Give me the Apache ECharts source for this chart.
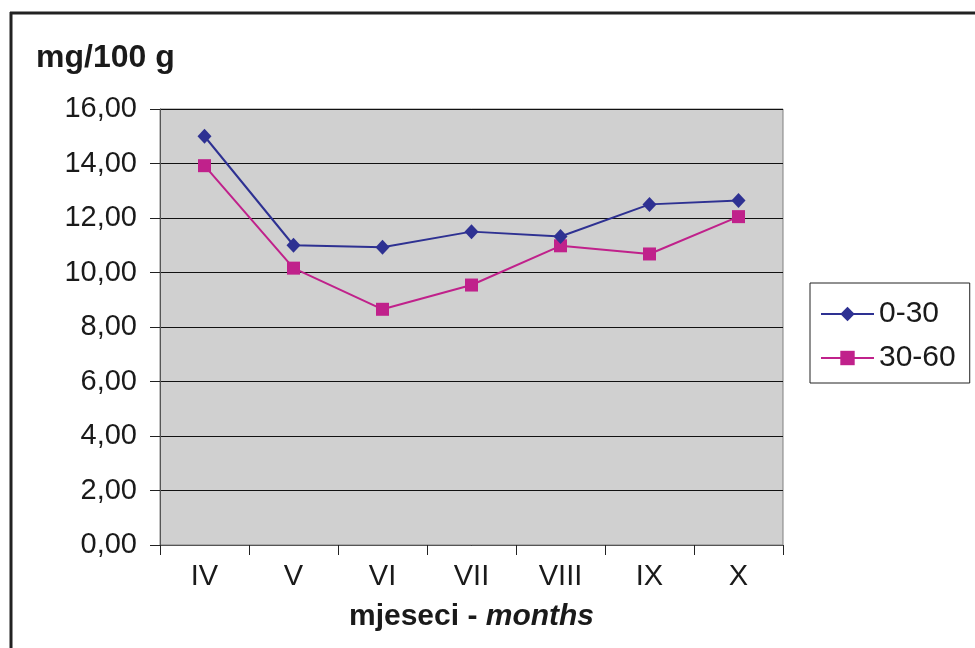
<!DOCTYPE html>
<html>
<head>
<meta charset="utf-8">
<script src="https://cdn.jsdelivr.net/npm/echarts@6/dist/echarts.min.js"></script>
<style>
  html, body { margin: 0; padding: 0; background: #fff; }
  #chart { width: 975px; height: 648px; }
</style>
</head>
<body>
<div id="chart"></div>
<script>
// Months (Roman numerals) and content by soil depth, mg/100 g
const months = ['IV', 'V', 'VI', 'VII', 'VIII', 'IX', 'X'];
const depth0to30 = [15.0, 11.0, 10.93, 11.5, 11.32, 12.5, 12.64];
const depth30to60 = [13.92, 10.16, 8.65, 9.54, 10.98, 10.68, 12.05];
const seriesNames = ['0-30', '30-60'];
const yTicks = { min: 0, max: 16, interval: 2 };

const FONT = '"Liberation Sans", Arial, Helvetica, sans-serif';
const chart = echarts.init(document.getElementById('chart'), null, { renderer: 'canvas' });

chart.setOption({
  backgroundColor: '#ffffff',
  animation: false,
  grid: {
    left: 160, right: 192, top: 109, bottom: 103,
    show: true,
    backgroundColor: '#d0d0d0',
    borderColor: '#808080',
    borderWidth: 1
  },
  legend: {
    orient: 'vertical',
    left: 810, top: 283,
    padding: [16, 14, 10, 10],
    itemGap: 14,
    itemWidth: 53,
    itemHeight: 18,
    borderColor: '#222',
    borderWidth: 1,
    backgroundColor: '#ffffff',
    textStyle: { fontFamily: FONT, fontSize: 30, color: '#1a1a1a' },
    data: seriesNames
  },
  xAxis: {
    type: 'category',
    data: months,
    boundaryGap: true,
    axisLine: { show: true, lineStyle: { color: '#555', width: 1 } },
    axisTick: { show: true, length: 10, lineStyle: { color: '#222', width: 1 } },
    axisLabel: { fontFamily: FONT, fontSize: 29, color: '#1a1a1a', margin: 17 },
    splitLine: { show: false },
    name: '{b|mjeseci - }{i|months}',
    nameLocation: 'middle',
    nameGap: 57,
    nameTextStyle: {
      rich: {
        b: { fontFamily: FONT, fontSize: 30, fontWeight: 'bold', color: '#1a1a1a' },
        i: { fontFamily: FONT, fontSize: 30, fontWeight: 'bold', fontStyle: 'italic', color: '#1a1a1a' }
      }
    }
  },
  yAxis: {
    type: 'value',
    min: yTicks.min, max: yTicks.max, interval: yTicks.interval,
    axisLine: { show: true, lineStyle: { color: '#555', width: 1 } },
    axisTick: { show: true, inside: false, length: 10, lineStyle: { color: '#222', width: 1 } },
    axisLabel: {
      fontFamily: FONT, fontSize: 29, color: '#1a1a1a', margin: 23,
      formatter: v => v.toFixed(2).replace('.', ',')
    },
    splitLine: { show: true, lineStyle: { color: '#111', width: 1.2 } }
  },
  series: [
    {
      name: seriesNames[0],
      type: 'line',
      data: depth0to30,
      symbol: 'diamond',
      symbolSize: [14, 15],
      itemStyle: { color: '#2e3192' },
      lineStyle: { color: '#2e3192', width: 2 },
      z: 3
    },
    {
      name: seriesNames[1],
      type: 'line',
      data: depth30to60,
      symbol: 'rect',
      symbolSize: 13,
      itemStyle: { color: '#c0218b' },
      lineStyle: { color: '#c0218b', width: 2 },
      z: 2
    }
  ],
  graphic: [
    // frame around the figure (left and top edges)
    { type: 'line', shape: { x1: 11, y1: 12, x2: 11, y2: 648 }, style: { stroke: '#222', lineWidth: 3 } },
    { type: 'line', shape: { x1: 10, y1: 13, x2: 975, y2: 13 }, style: { stroke: '#222', lineWidth: 3 } },
    // unit label
    {
      type: 'text', left: 36, top: 42,
      style: { text: 'mg/100 g', font: 'bold 32px ' + FONT, fill: '#1a1a1a' }
    }
  ]
});
</script>
</body>
</html>
